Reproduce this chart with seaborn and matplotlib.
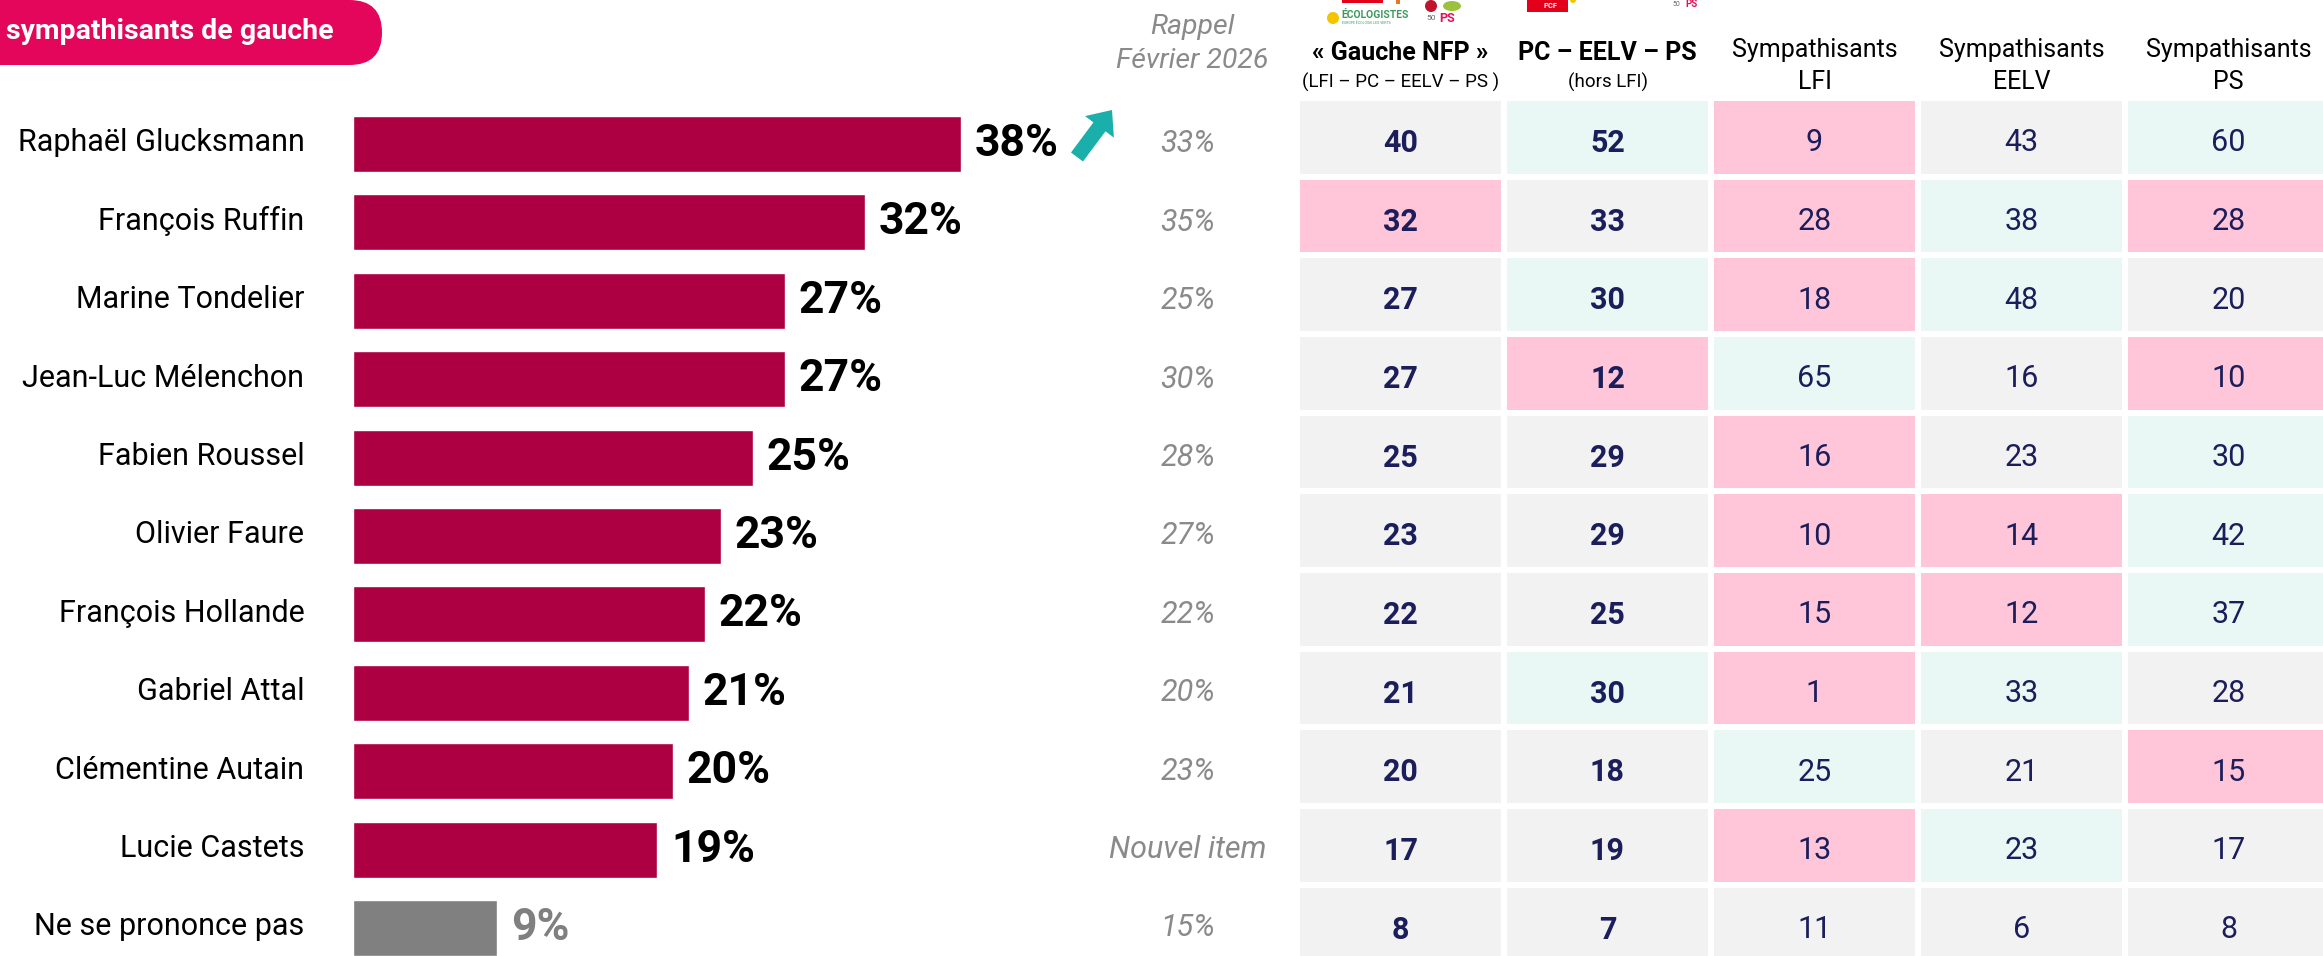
import numpy as np
import matplotlib
matplotlib.use("Agg")
import matplotlib.pyplot as plt
import matplotlib.patches as mpatches
from matplotlib.colors import ListedColormap
from matplotlib.transforms import blended_transform_factory, ScaledTranslation
import seaborn as sns

# --- data -------------------------------------------------------------
names = ["Raphaël Glucksmann", "François Ruffin", "Marine Tondelier",
         "Jean-Luc Mélenchon", "Fabien Roussel", "Olivier Faure",
         "François Hollande", "Gabriel Attal", "Clémentine Autain",
         "Lucie Castets", "Ne se prononce pas"]
scores = [38, 32, 27, 27, 25, 23, 22, 21, 20, 19, 9]
rappel = ["33%", "35%", "25%", "30%", "28%", "27%", "22%", "20%", "23%",
          "Nouvel item", "15%"]

col_heads = ["« Gauche NFP »", "PC – EELV – PS", "Sympathisants",
             "Sympathisants", "Sympathisants"]
col_subs = ["(LFI – PC – EELV – PS )", "(hors LFI)", "LFI", "EELV", "PS"]

table_vals = np.array([
    [40, 52, 9, 43, 60],
    [32, 33, 28, 38, 28],
    [27, 30, 18, 48, 20],
    [27, 12, 65, 16, 10],
    [25, 29, 16, 23, 30],
    [23, 29, 10, 14, 42],
    [22, 25, 15, 12, 37],
    [21, 30, 1, 33, 28],
    [20, 18, 25, 21, 15],
    [17, 19, 13, 23, 17],
    [8, 7, 11, 6, 8],
])
# 0 = neutral, 1 = above average (mint), 2 = below average (pink)
table_codes = np.array([
    [0, 1, 2, 0, 1],
    [2, 0, 2, 1, 2],
    [0, 1, 2, 1, 0],
    [0, 2, 1, 0, 2],
    [0, 0, 2, 0, 1],
    [0, 0, 2, 2, 1],
    [0, 0, 2, 2, 1],
    [0, 1, 2, 1, 0],
    [0, 0, 1, 0, 2],
    [0, 0, 2, 1, 0],
    [0, 0, 0, 0, 0],
])

# --- style ------------------------------------------------------------
sns.set_theme(style="white")
plt.rcParams["font.family"] = ["Roboto", "DejaVu Sans"]

BAR = "#AD0042"
GREY_BAR = "#808080"
NAVY = "#1B1E5B"
RAPPEL_GREY = "#8A8A8A"
PINK_BADGE = "#E3065B"
TEAL = "#1AAFAA"
cell_cmap = ListedColormap(["#F2F2F2", "#E9F8F4", "#FFC6DA"])

W, H = 2323, 956
fig = plt.figure(figsize=(W / 100, H / 100), dpi=100)
fig.patch.set_facecolor("white")


def px_rect(x0, y0, x1, y1):
    return [x0 / W, 1 - y1 / H, (x1 - x0) / W, (y1 - y0) / H]


# --- bars -------------------------------------------------------------
pitch = 78.4
ax_b = fig.add_axes(px_rect(353, 144 - pitch / 2, 353 + 16 * 45, 144 + 10.5 * pitch))
bar_colors = [BAR] * (len(names) - 1) + [GREY_BAR]
sns.barplot(x=scores, y=names, hue=names, palette=bar_colors, legend=False,
            width=0.714, saturation=1, orient="h", ax=ax_b)
ax_b.set_xlim(0, 45)
ax_b.set_ylim(len(names) - 0.5, -0.5)
ax_b.set_xticks([])
ax_b.set_xlabel("")
ax_b.set_ylabel("")
for s in ax_b.spines.values():
    s.set_visible(False)
ax_b.patch.set_alpha(0)
ax_b.tick_params(axis="y", length=0, pad=35, labelsize=22, labelcolor="black")
lift = ScaledTranslation(0, 4 / 100, fig.dpi_scale_trans)
for lab in ax_b.get_yticklabels():
    lab.set_transform(lab.get_transform() + lift)

for i, v in enumerate(scores):
    ax_b.annotate(f"{v}%", (v, i), xytext=(10, 0), textcoords="offset points",
                  ha="left", va="center", fontsize=32, fontweight="bold",
                  color=GREY_BAR if i == len(scores) - 1 else "black")

# rappel column
tr_r = blended_transform_factory(fig.transFigure, ax_b.transData)
for i, r in enumerate(rappel):
    ax_b.text(1188 / W, i, r, transform=tr_r, ha="center", va="center",
              fontsize=22, fontstyle="italic", color=RAPPEL_GREY)

# --- table ------------------------------------------------------------
row_h = 78.67
ax_t = fig.add_axes(px_rect(1297, 98, 1297 + 207 * 5, 98 + 11 * row_h))
sns.heatmap(table_codes, cmap=cell_cmap, vmin=-0.5, vmax=2.5,
            annot=table_vals, fmt="d",
            annot_kws={"fontsize": 22, "color": NAVY},
            linewidths=3, linecolor="white", cbar=False,
            xticklabels=False, yticklabels=False, ax=ax_t)
for t in ax_t.texts:
    x, y = t.get_position()
    t.set_position((x, y + 0.07))
    t.set_color(NAVY)
    if x < 2:
        t.set_fontweight("bold")

# --- decorations (pixel space) -----------------------------------------
deco = fig.add_axes([0, 0, 1, 1])
deco.set_xlim(0, W)
deco.set_ylim(H, 0)
deco.axis("off")
deco.patch.set_alpha(0)

badge = mpatches.FancyBboxPatch((-80, 0), 462, 65,
                                boxstyle="round,pad=0,rounding_size=32.5",
                                fc=PINK_BADGE, ec="none")
deco.add_patch(badge)
deco.text(6, 31, "sympathisants de gauche", ha="left", va="center",
          color="white", fontsize=20.5, fontweight="bold")

deco.text(1192, 27, "Rappel", ha="center", va="center", fontsize=20.5,
          fontstyle="italic", color=RAPPEL_GREY)
deco.text(1192, 61, "Février 2026", ha="center", va="center", fontsize=20.5,
          fontstyle="italic", color=RAPPEL_GREY)

deco.add_patch(mpatches.FancyArrow(1077, 157, 35, -47, width=15,
                                   head_width=36, head_length=21,
                                   length_includes_head=True,
                                   fc=TEAL, ec="none"))

# column headers
tr_h = blended_transform_factory(ax_t.transData, deco.transData)
for j, (h, s) in enumerate(zip(col_heads, col_subs)):
    bold = j < 2
    deco.text(j + 0.5, 53 if bold else 50, h, transform=tr_h, ha="center",
              va="center", fontsize=18,
              fontweight="bold" if bold else "normal", color="black")
    deco.text(j + 0.5, 82, s, transform=tr_h, ha="center", va="center",
              fontsize=13.5 if bold else 18, color="black")

# party logos (approximate)
deco.add_patch(mpatches.Rectangle((1342, -5), 41, 8, fc="#E2001A", ec="none"))
deco.add_patch(mpatches.Rectangle((1396, -5), 4, 9, fc="#E07A2B", ec="none"))
deco.add_patch(mpatches.Circle((1333, 18), 6, fc="#F2C500", ec="none"))
deco.text(1341, 15, "ÉCOLOGISTES", ha="left", va="center", fontsize=7.5,
          fontweight="bold", color="#3D9A5C")
deco.text(1342, 23, "EUROPE ÉCOLOGIE LES VERTS", ha="left", va="center",
          fontsize=2.5, color="#3D9A5C")
deco.add_patch(mpatches.Circle((1431, 6), 6, fc="#C0142C", ec="none"))
deco.add_patch(mpatches.Ellipse((1452, 6), 18, 10, fc="#9CC23B", ec="none"))
deco.text(1447, 18, "PS", ha="center", va="center", fontsize=9,
          fontweight="bold", color="#E4105A")
deco.text(1431, 18, "50", ha="center", va="center", fontsize=6, color="#666666")

deco.add_patch(mpatches.Rectangle((1527, -5), 41, 17, fc="#E2001A", ec="none"))
deco.text(1550, 5, "PCF", ha="center", va="center", fontsize=5.5,
          fontweight="bold", color="white")
deco.add_patch(mpatches.Circle((1573, 0), 3, fc="#F2C500", ec="none"))
deco.text(1692, 4, "PS", ha="center", va="center", fontsize=7,
          fontweight="bold", color="#E4105A")
deco.text(1676, 4, "50", ha="center", va="center", fontsize=5, color="#666666")

fig.savefig("out.png", dpi=100)
